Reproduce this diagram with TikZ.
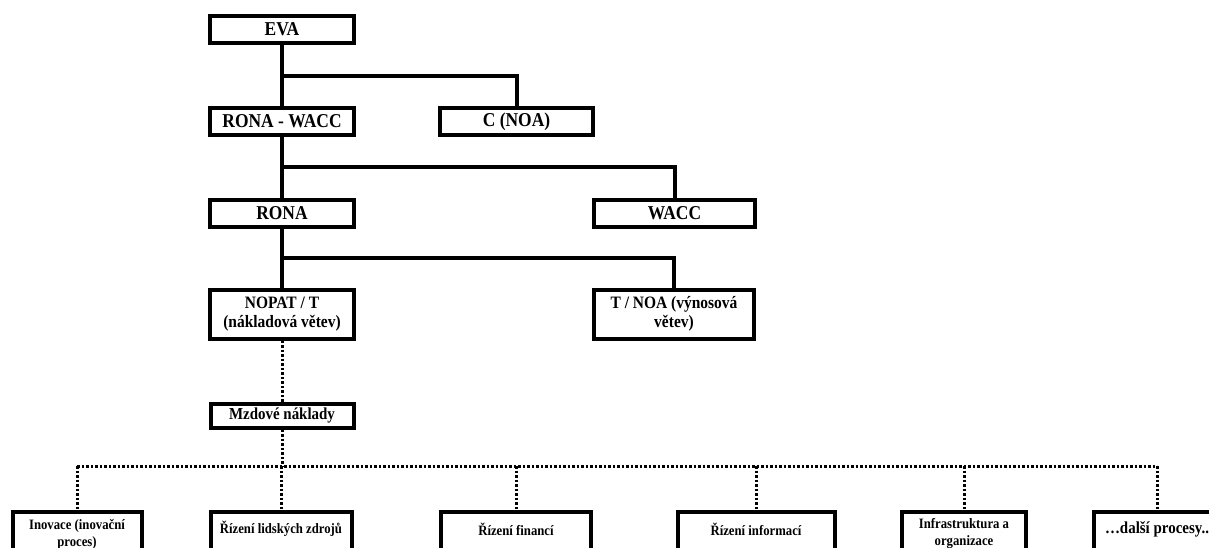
\documentclass[tikz,border=0pt]{standalone}
\usepackage{fontspec}
\setmainfont{Liberation Serif}[FakeStretch=0.89]
\usetikzlibrary{calc}
% lift a one-line label inside a taller box without changing its size
\newcommand{\liftlabel}[1]{\raisebox{5pt}[\height][\depth]{#1}}
\begin{document}
\begin{tikzpicture}[x=1pt,y=-1pt,
  box/.style={draw, line width=4pt, inner sep=2pt, align=center},
  topbox/.style={box, minimum height=27pt, font=\fontsize{19.6}{21}\selectfont\bfseries},
  midbox/.style={box, minimum height=49pt, font=\fontsize{17.4}{19.5}\selectfont\bfseries},
  wagebox/.style={box, minimum height=24pt, font=\fontsize{16.8}{18}\selectfont\bfseries},
  procbox/.style={box, anchor=north, minimum height=44pt, font=\fontsize{14.3}{17}\selectfont\bfseries},
  conn/.style={line width=4pt},
  dotconn/.style={line width=3pt, dash pattern=on 2.6pt off 1.9pt},
]
\useasboundingbox (0,0) rectangle (1209,547);
\clip (0,0) rectangle (1209,547);

% upper levels of the EVA tree
\node[topbox, minimum width=144pt] (eva)  at (282,29.5)  {EVA};
\node[topbox, minimum width=144pt] (rw)   at (282,121.5) {RONA - WACC};
\node[topbox, minimum width=153pt] (cnoa) at (516.5,121.5) {C (NOA)};
\node[topbox, minimum width=144pt] (rona) at (282,213)   {RONA};
\node[topbox, minimum width=161pt] (wacc) at (674.5,213) {WACC};
\node[midbox, minimum width=144pt] (nopat) at (282,314)  {NOPAT / T\\(nákladová větev)};
\node[midbox, minimum width=160pt] (tnoa)  at (674,314)  {T / NOA (výnosová\\větev)};
\node[wagebox, minimum width=143pt] (mzd)  at (282,415.5) {Mzdové náklady};

% processes
\node[procbox, minimum width=129pt] (p1) at (77,510)  {Inovace (inovační\\proces)};
\node[procbox, minimum width=141pt] (p2) at (281,510) {\liftlabel{Řízení lidských zdrojů}};
\node[procbox, minimum width=150pt] (p3) at (516,510) {\liftlabel{Řízení financí}};
\node[procbox, minimum width=157pt] (p4) at (756,510) {\liftlabel{Řízení informací}};
\node[procbox, minimum width=124pt] (p5) at (964,510) {Infrastruktura a\\organizace};
\node[procbox, minimum width=126pt, font=\fontsize{16.8}{18}\selectfont\bfseries] (p6) at (1157,510) {\liftlabel{…další procesy..}};

% solid connectors
\draw[conn] (eva) -- (rw);
\draw[conn] ($(eva.south)!.5!(rw.north)$) -| (cnoa);
\draw[conn] (rw) -- (rona);
\draw[conn] ($(rw.south)!.5!(rona.north)$) -| (wacc);
\draw[conn] (rona) -- (nopat);
\draw[conn] ($(rona.south)!.5!(nopat.north)$) -| (tnoa);

% dotted connectors
\coordinate (bus) at (0,466);
\draw[dotconn] (nopat) -- (mzd);
\draw[dotconn] (mzd) -- (mzd |- bus);
\draw[dotconn] (p1 |- bus) -- (p6 |- bus);
\foreach \p in {p1,p2,p3,p4,p5,p6}
  \draw[dotconn] (\p |- bus) -- (\p);
\end{tikzpicture}
\end{document}
